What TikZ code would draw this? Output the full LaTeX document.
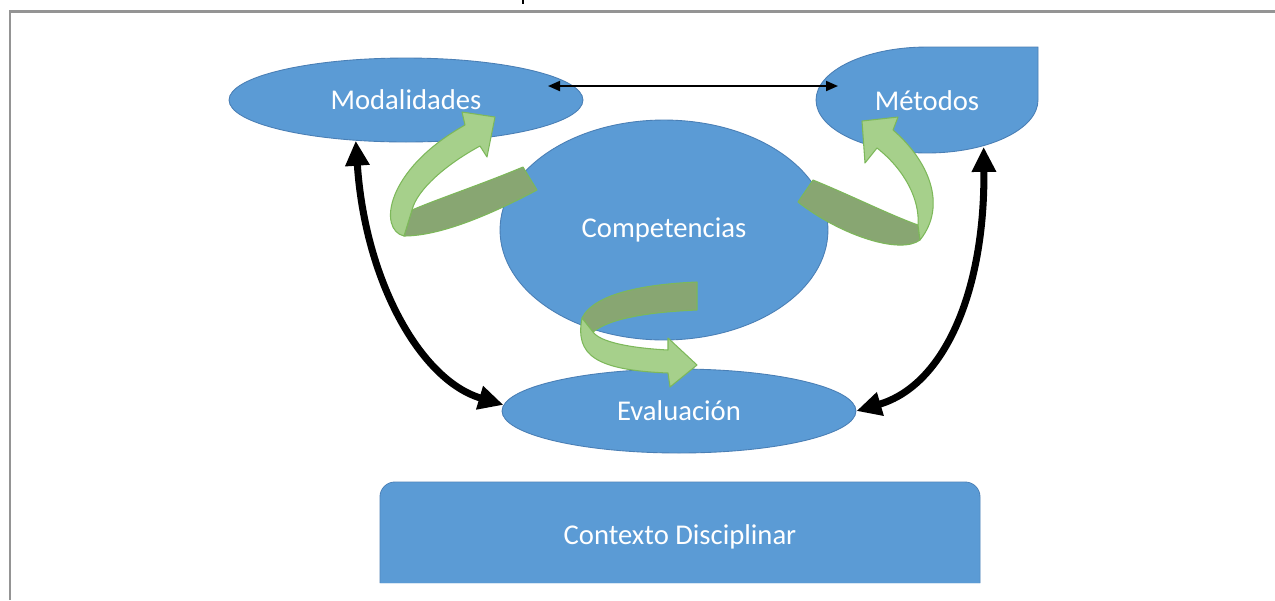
\documentclass[tikz,border=0pt]{standalone}
\usepackage{fontspec}
\setmainfont{Carlito}
\usetikzlibrary{arrows.meta,shapes.geometric,calc}
\definecolor{bfill}{HTML}{5B9BD5}
\definecolor{bline}{HTML}{4A7FB5}
\definecolor{glight}{HTML}{A6D08B}
\definecolor{gdark}{HTML}{88A672}
\definecolor{gline}{HTML}{7DB85A}
\definecolor{frame}{HTML}{949494}
\begin{document}
\begin{tikzpicture}[x=0.02cm,y=-0.02cm,
  lbl/.style={text=white, font=\fontsize{16.3}{19}\selectfont, inner sep=0pt},
  blob/.style={lbl, ellipse, fill=bfill, draw=bline, line width=0.5pt},
  shapeline/.style={fill=bfill, draw=bline, line width=0.5pt},
  ribbonlight/.style={fill=glight, draw=gline, line width=0.6pt, line join=round},
  ribbondark/.style={fill=gdark, draw=gline, line width=0.6pt, line join=round},
  bigarrow/.style={line width=4pt, {Triangle[length=0.5cm,width=0.46cm]}-{Triangle[length=0.5cm,width=0.46cm]}},
  thinarrow/.style={line width=1.1pt, {Triangle[length=0.24cm,width=0.2cm]}-{Triangle[length=0.24cm,width=0.2cm]}},
  framestyle/.style={draw=frame, line width=0.06cm}
]
\useasboundingbox[fill=white] (0,0) rectangle (1275,600);
% frame
\draw[framestyle] (10,600) -- (10,11) -- (1275,11);
\draw[line width=0.8pt] (523,0) -- (523,4);

% ellipses
\node[blob, minimum width=7.08cm, minimum height=1.68cm] (mod) at (406,100) {Modalidades};
\node[blob, minimum width=6.56cm, minimum height=4.4cm] (comp) at (664,230) {Competencias};
\node[blob, minimum width=7.08cm, minimum height=1.68cm] (eval) at (679,411) {Evaluación};

% Metodos shape
\path[shapeline] (1038,47) -- (1038,100)
  arc[start angle=0,end angle=-90,x radius=2.22cm,y radius=1.06cm]
  arc[start angle=-90,end angle=-270,x radius=2.22cm,y radius=1.06cm] -- cycle;
\node[lbl, ellipse, minimum width=4.44cm, minimum height=2.12cm] (met) at (927,101) {Métodos};

% Contexto
\path[shapeline] (380,583) -- (380,497) to[out=90,in=180] (395,482) -- (965,482)
  to[out=0,in=90] (980,497) -- (980,583);
\fill[bfill] (380.5,583) -- (380.5,497) to[out=90,in=180] (395,482.5) -- (965,482.5)
  to[out=0,in=90] (979.5,497) -- (979.5,583) -- cycle;
\node[lbl, minimum width=12cm, minimum height=2.02cm] (ctx) at (680,537) {Contexto Disciplinar};

% green ribbon arrows
% left
\path[ribbondark] (523,167) .. controls (480,185) and (440,198) .. (412,210)
  -- (404,236) .. controls (440,236) and (490,215) .. (537,190) -- cycle;
\path[ribbonlight] (412,210) -- (404,236) .. controls (378,230) and (385,170) .. (465,125)
  -- (462,112) -- (495,117) -- (487,157) -- (480,146)
  .. controls (445,165) and (417,190) .. (412,210) -- cycle;
% right
\path[ribbondark] (813,180) .. controls (850,195) and (890,215) .. (918,225)
  -- (920,240) .. controls (900,255) and (840,235) .. (798,202) -- cycle;
\path[ribbonlight] (918,225) -- (920,240) .. controls (948,205) and (928,160) .. (893,130)
  -- (898,117) -- (862,121) -- (865,163) -- (877,148)
  .. controls (905,170) and (920,200) .. (918,225) -- cycle;
% bottom
\path[ribbondark] (697,282) .. controls (650,284) and (595,292) .. (582,318)
  -- (593,332) .. controls (610,318) and (650,312) .. (697,310) -- cycle;
\path[ribbonlight] (582,318) .. controls (575,355) and (595,370) .. (668,373)
  -- (670,387) -- (697,365) -- (668,338) -- (668,350)
  .. controls (630,348) and (600,342) .. (593,332) -- cycle;

% thin arrow
\path (mod.center) ++(142,-14) coordinate (ta);
\path (met.center) ++(-89,-15) coordinate (tb);
\draw[thinarrow] (ta) -- (tb);

% black curved arrows
\draw[bigarrow] (mod.-141) .. controls (365,280) and (420,380) .. (eval.178);
\draw[bigarrow] (met.-39) .. controls (985,290) and (945,385) .. (eval.east);
\end{tikzpicture}
\end{document}
